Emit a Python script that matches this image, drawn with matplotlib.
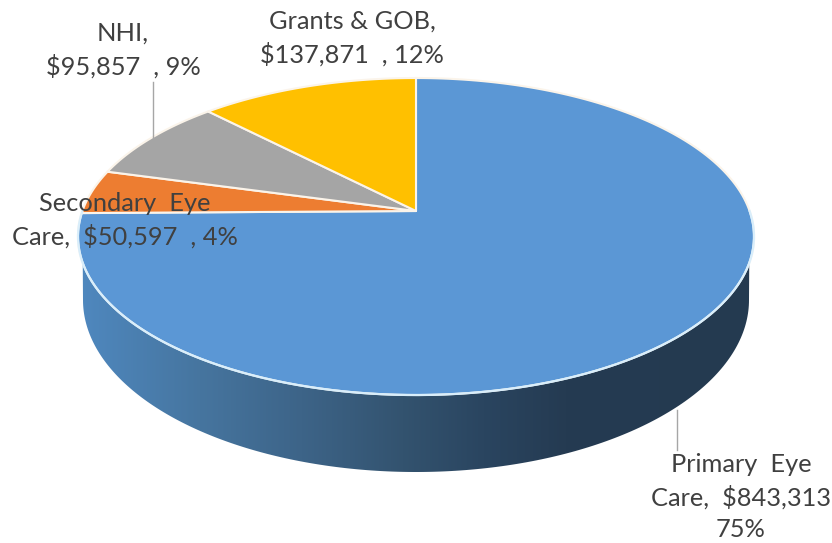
import numpy as np
import matplotlib
matplotlib.use("Agg")
import matplotlib.pyplot as plt
from matplotlib.colors import LinearSegmentedColormap
from matplotlib.patches import Polygon

categories = ["Primary Eye Care", "Secondary Eye Care", "NHI", "Grants & GOB"]
amounts = [843313, 50597, 95857, 137871]
slice_colors = ["#5b97d5", "#ed7d31", "#a5a5a5", "#ffc000"]
label_texts = [
    "Primary  Eye\nCare,  $843,313\n75%",
    "Secondary  Eye\nCare,  $50,597  , 4%",
    "NHI,\n$95,857  , 9%",
    "Grants & GOB,\n$137,871  , 12%",
]
label_pos = [(741, 497), (125, 220), (123, 50), (352, 38)]

# pie centre and perspective of the tilted disc, in pixels
APEX_X, APEX_Y = 416, 211
A, B, K = 333.6, 154.4, 0.161
DEPTH_CY, DEPTH_RX, DEPTH_RY = 300, 333, 172

plt.rcParams["font.family"] = ["Lato", "DejaVu Sans"]


def project(theta):
    # unit circle to the screen, far edge is squeezed
    u, v = np.cos(theta), np.sin(theta)
    return APEX_X + A * u / (1 + K * v), APEX_Y - B * v / (1 + K * v)


fig = plt.figure(figsize=(8.32, 5.43), dpi=100)
ax = fig.add_axes([0, 0, 1, 1])

# side wall with the dark gradient
th = np.linspace(np.pi, 2 * np.pi, 200)
top_x, top_y = project(th)
low_x = APEX_X + DEPTH_RX * np.cos(th[::-1])
low_y = DEPTH_CY - DEPTH_RY * np.sin(th[::-1])
wall = Polygon(np.column_stack([np.r_[top_x, low_x], np.r_[top_y, low_y]]), closed=True,
               facecolor="none", edgecolor="none", transform=ax.transData)
ax.add_patch(wall)
cmap = LinearSegmentedColormap.from_list(
    "wall",
    [(0.0, "#4f88bf"), (0.18, "#46759f"), (0.33, "#3d6488"), (0.48, "#33536f"),
     (0.60, "#2a4560"), (0.72, "#253b52"), (1.0, "#243a50")],
)
img = ax.imshow(np.linspace(0, 1, 256)[None, :], cmap=cmap, aspect="auto",
                extent=(78, 755, 480, 200), zorder=1)
img.set_clip_path(wall)

# top face, clockwise from 12 o'clock
fractions = np.array(amounts) / sum(amounts)
start = np.pi / 2
for frac, color in zip(fractions, slice_colors):
    end = start - 2 * np.pi * frac
    xs, ys = project(np.linspace(start, end, 200))
    ax.fill(np.r_[APEX_X, xs], np.r_[APEX_Y, ys], facecolor=color, edgecolor="#fbf4ea",
            linewidth=1.5, joinstyle="round", zorder=2)
    start = end

# light rim along the front
ax.plot(top_x, top_y, color="#d9eefb", linewidth=1.6, zorder=3)

# leader lines
ax.plot([153, 153], [82, 138], color="#a6a6a6", linewidth=1, zorder=4)
ax.plot([677, 677], [410, 450], color="#a6a6a6", linewidth=1, zorder=4)

for text, (x, y) in zip(label_texts, label_pos):
    ax.text(x, y, text, ha="center", va="center", fontsize=18.3, color="#404040",
            linespacing=1.45, zorder=5, parse_math=False)

ax.set_xlim(0, 832)
ax.set_ylim(543, 0)
ax.axis("off")
fig.savefig("out.png", dpi=100, facecolor="white")
